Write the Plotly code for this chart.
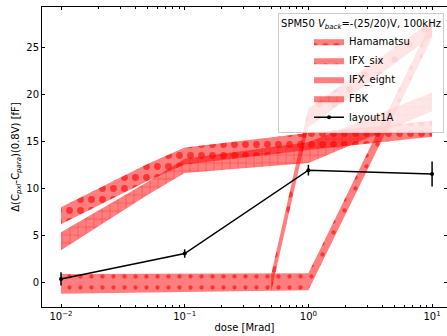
import plotly.graph_objects as go

# ---- data ----
dose_ham = [0.01, 0.05, 0.1, 1, 10]
ham_mid = [7.1, 11.7, 13.45, 15.0, 16.35]
ham_err = [0.9, 0.9, 0.9, 0.9, 0.85]

dose_six = [0.01, 0.1, 1, 10]
six_mid = [-0.12, -0.02, 0.1, 26.9]
six_err = [1.05, 1.0, 0.9, 0.9]

dose_eight = [0.5, 1, 10]
eight_mid = [-0.05, 17.5, 27.0]
eight_err = [0.9, 1.0, 0.8]

dose_fbk = [0.01, 0.05, 0.1, 1, 10]
fbk_mid = [4.4, 10.0, 12.4, 13.8, 19.2]
fbk_err = [0.95, 0.7, 0.75, 1.1, 1.0]

dose_l1a = [0.01, 0.1, 1, 10]
l1a_val = [0.4, 3.1, 11.95, 11.55]
l1a_err = [0.7, 0.45, 0.57, 1.33]

x_tickvals = [0.01, 0.1, 1, 10]
x_ticktext = ["10<sup>\u22122</sup>", "10<sup>\u22121</sup>", "10<sup>0</sup>", "10<sup>1</sup>"]
x_minor = [m * d for d in [0.01, 0.1, 1] for m in range(2, 10)]
y_tickvals = [0, 5, 10, 15, 20, 25]

FONT = "DejaVu Sans"


def band(x, mid, err, name, shape, size, solidity):
    upper = [m + e for m, e in zip(mid, err)]
    lower = [m - e for m, e in zip(mid, err)]
    return go.Scatter(
        x=list(x) + list(x)[::-1],
        y=upper + lower[::-1],
        fill="toself",
        mode="lines",
        line=dict(width=0, color="rgba(255,0,0,0.5)"),
        fillcolor="rgba(255,0,0,0.5)",
        fillpattern=dict(shape=shape, fgcolor="rgba(255,0,0,0.6)",
                         bgcolor="rgba(255,0,0,0.5)", size=size,
                         solidity=solidity, fillmode="replace"),
        name=name,
        hoverinfo="skip",
    )


fig = go.Figure()
fig.add_trace(band(dose_ham, ham_mid, ham_err, "Hamamatsu", ".", 11, 0.3))
fig.add_trace(band(dose_six, six_mid, six_err, "IFX_six", ".", 11, 0.12))
fig.add_trace(band(dose_eight, eight_mid, eight_err, "IFX_eight", ".", 15, 0.14))
fig.add_trace(band(dose_fbk, fbk_mid, fbk_err, "FBK", "+", 8, 0.1))
fig.add_trace(go.Scatter(
    x=dose_l1a, y=l1a_val, mode="lines+markers", name="layout1A",
    line=dict(color="black", width=1.5),
    marker=dict(color="black", size=4),
    error_y=dict(type="data", array=l1a_err, color="black", thickness=1.5, width=0),
))

axis_common = dict(
    showline=True, linecolor="black", linewidth=0.8, mirror="ticks",
    ticks="inside", tickcolor="black", tickwidth=0.8, ticklen=3.5,
    showgrid=False, zeroline=False, automargin=False,
    tickfont=dict(family=FONT, size=10, color="black"),
)

fig.update_xaxes(
    type="log", range=[-2.1536, 1.1205],
    tickmode="array", tickvals=x_tickvals, ticktext=x_ticktext,
    minor=dict(tickmode="array", tickvals=x_minor, ticks="inside", ticklen=2,
               tickcolor="black", tickwidth=0.6, showgrid=False),
    title=dict(text="dose [Mrad]", font=dict(family=FONT, size=10, color="black"), standoff=3),
    **axis_common,
)
fig.update_yaxes(
    range=[-2.58, 29.27], tickmode="array", tickvals=y_tickvals,
    title=dict(text="\u0394(C<sub><i>pxl</i></sub>-C<sub><i>para</i></sub>)(0.8V) [fF]",
               font=dict(family=FONT, size=10, color="black"), standoff=4),
    **axis_common,
)

fig.update_layout(
    width=447, height=336,
    margin=dict(l=42, r=0, t=7, b=29),
    paper_bgcolor="white", plot_bgcolor="white",
    font=dict(family=FONT, size=10, color="black"),
    showlegend=True,
    legend=dict(
        x=0.9926, y=0.981, xanchor="right", yanchor="top",
        bgcolor="rgba(255,255,255,0.8)", bordercolor="#cccccc", borderwidth=1,
        font=dict(family=FONT, size=10, color="black"),
        title=dict(text="SPM50 <i>V</i><sub><i>back</i></sub>=-(25/20)V, 100kHz",
                   font=dict(family=FONT, size=10, color="black"), side="top center"),
        tracegroupgap=0, itemwidth=30, indentation=30,
    ),
)

fig.write_html("out.html", config={"displayModeBar": False},
               post_script="document.body.style.margin='0';document.body.style.padding='0';")
